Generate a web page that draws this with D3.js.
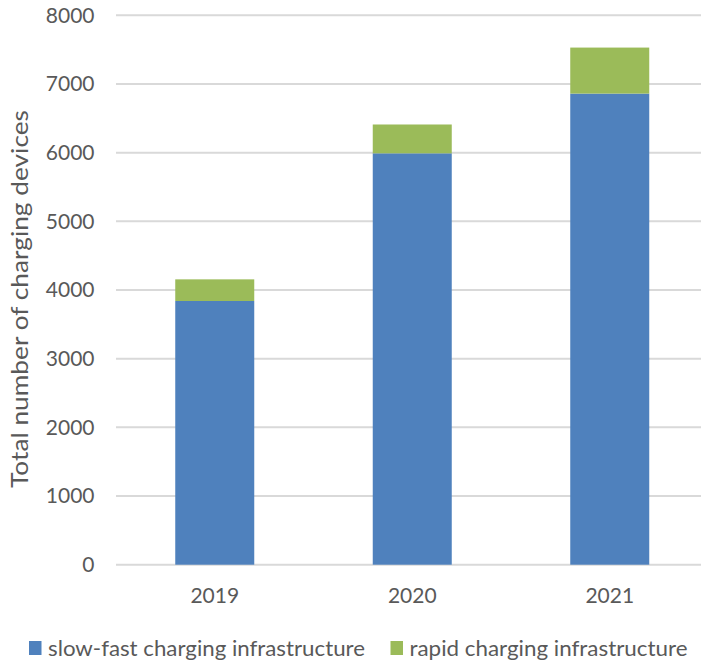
<!DOCTYPE html>
<html>
<head>
<meta charset="utf-8">
<script src="https://cdn.jsdelivr.net/npm/d3@7"></script>
<style>
  body { margin: 0; background: #fff; }
  text { font-family: Lato, "Noto Sans", sans-serif; fill: #595959; }
</style>
</head>
<body>
<div class="chart"></div>
<script>
// data
const years = ['2019', '2020', '2021'];
const slowFast = [3840, 5990, 6860];
const rapid = [315, 420, 670];
const seriesNames = ['slow-fast charging infrastructure', 'rapid charging infrastructure'];
const seriesColors = ['#4f81bd', '#9bbb59'];
const yTicks = [0, 1000, 2000, 3000, 4000, 5000, 6000, 7000, 8000];

const width = 701, height = 661;

const svg = d3.select('.chart')
  .append('svg')
    .attr('width', width)
    .attr('height', height);

const x = d3.scaleBand()
  .domain(years)
  .range([116, 708.5])
  .paddingInner(0.6)
  .paddingOuter(0.3);

const y = d3.scaleLinear()
  .domain([0, 8000])
  .range([564.7, 15.3]);

// gridlines
svg.append('g')
  .selectAll('line')
  .data(yTicks).enter()
  .append('line')
    .attr('x1', 116)
    .attr('x2', width)
    .attr('y1', d => y(d))
    .attr('y2', d => y(d))
    .attr('stroke', '#d9d9d9')
    .attr('stroke-width', 2);

// y tick labels
svg.append('g')
  .selectAll('text')
  .data(yTicks).enter()
  .append('text')
    .attr('x', 94.5)
    .attr('y', d => y(d))
    .attr('dy', '0.35em')
    .attr('text-anchor', 'end')
    .attr('font-size', 21)
    .text(d => d);

// stacked bars
const rows = years.map((yr, i) => ({ year: yr, slow: slowFast[i], rapid: rapid[i] }));
const stacked = d3.stack().keys(['slow', 'rapid'])(rows);

svg.append('g')
  .selectAll('g')
  .data(stacked).enter()
  .append('g')
    .attr('fill', (d, i) => seriesColors[i])
  .selectAll('rect')
  .data(d => d).enter()
  .append('rect')
    .attr('x', d => x(d.data.year))
    .attr('width', x.bandwidth())
    .attr('y', d => y(d[1]))
    .attr('height', d => y(d[0]) - y(d[1]));

// x labels
svg.append('g')
  .selectAll('text')
  .data(years).enter()
  .append('text')
    .attr('x', d => x(d) + x.bandwidth() / 2)
    .attr('y', 596)
    .attr('dy', '0.35em')
    .attr('text-anchor', 'middle')
    .attr('font-size', 21)
    .text(d => d);

// y axis title
svg.append('text')
  .attr('transform', 'translate(20,299) rotate(-90)')
  .attr('text-anchor', 'middle')
  .attr('dy', '0.35em')
  .attr('font-size', 23)
  .attr('textLength', 378)
  .attr('lengthAdjust', 'spacingAndGlyphs')
  .text('Total number of charging devices');

// legend
const legendX = [29, 390.5];
const legendLen = [317, 278];
const legend = svg.append('g')
  .selectAll('g')
  .data(seriesNames).enter()
  .append('g')
    .attr('transform', (d, i) => `translate(${legendX[i]},648)`);

legend.append('rect')
  .attr('x', 0)
  .attr('y', -7)
  .attr('width', 12.5)
  .attr('height', 14)
  .attr('fill', (d, i) => seriesColors[i]);

legend.append('text')
  .attr('x', 19)
  .attr('dy', '0.35em')
  .attr('font-size', 22)
  .attr('textLength', (d, i) => legendLen[i])
  .attr('lengthAdjust', 'spacingAndGlyphs')
  .text(d => d);
</script>
</body>
</html>
